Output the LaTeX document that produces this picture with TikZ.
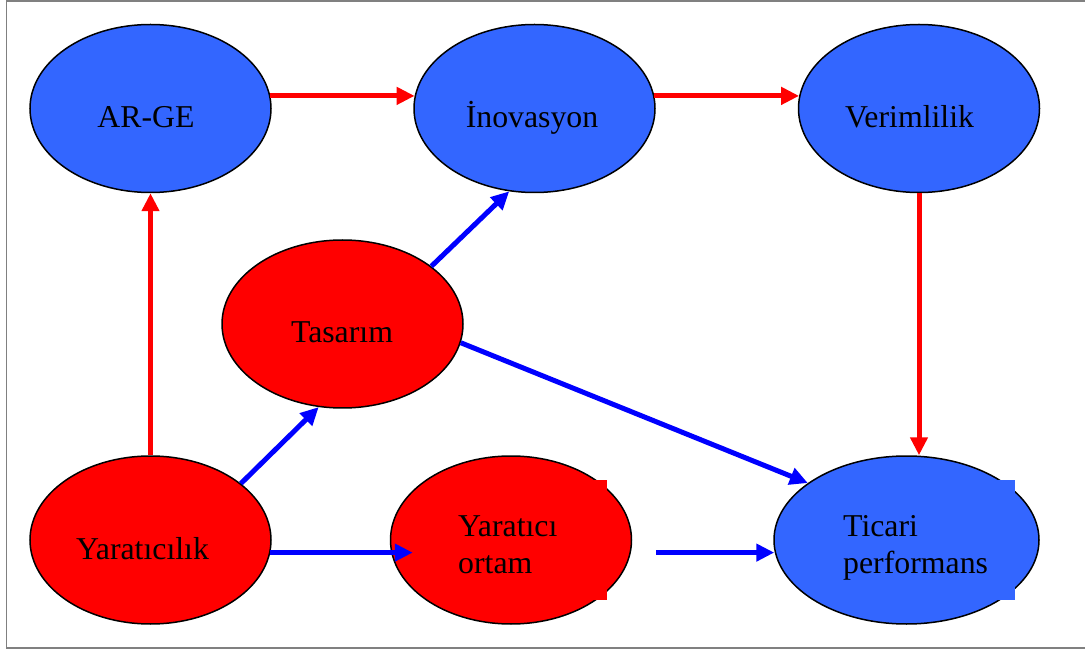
\documentclass[tikz,border=0pt]{standalone}
\usepackage{fontspec}
\setmainfont{Liberation Serif}
\usetikzlibrary{shapes.geometric,arrows.meta}
\definecolor{nodeblue}{RGB}{51,102,255}
\definecolor{nodered}{RGB}{255,0,0}
\definecolor{linkblue}{RGB}{0,0,255}
\definecolor{framegray}{RGB}{128,128,128}

\begin{document}
\begin{tikzpicture}[x=1pt,y=-1pt,
  bubble/.style={ellipse, draw=black, line width=1.5pt, inner sep=0pt,
    minimum width=241pt, minimum height=168pt},
  bluebubble/.style={bubble, fill=nodeblue},
  redbubble/.style={bubble, fill=nodered},
  wordstyle/.style={font=\fontsize{31.8}{37}\selectfont, inner sep=0pt, text=black},
  linkbase/.style={line width=5pt, -{Triangle[length=18pt,width=17pt]}},
  redlink/.style={linkbase, draw=nodered, fill=nodered},
  bluelink/.style={linkbase, draw=linkblue, fill=linkblue}]

\clip (0,0) rectangle (1085,652);

% outer frame
\draw[framegray, line width=1.5pt] (6.5,1) rectangle (1100,648);

% the seven ellipses
\node[bluebubble] (arge) at (150.5,108.5) {};
\node[bluebubble] (ino)  at (534.5,108.5) {};
\node[bluebubble] (ver)  at (919,108.5) {};
\node[redbubble]  (tas)  at (342.5,324) {};
\node[redbubble]  (yar)  at (150.5,540) {};
\node[redbubble]  (ort)  at (511,540) {};
\node[bluebubble, minimum width=265pt] (tic) at (906.5,540) {};

% text boxes behind the two-line labels
\fill[nodered]  (452,480) rectangle (607,600);
\fill[nodeblue] (835,480) rectangle (1015,600);

% labels
\node[wordstyle, anchor=base] (targe) at (146,128) {AR-GE};
\node[wordstyle, anchor=base] (tino)  at (532,128) {İnovasyon};
\node[wordstyle, anchor=base] (tver)  at (909.5,128) {Verimlilik};
\node[wordstyle, anchor=base] (ttas)  at (342,343) {Tasarım};
\node[wordstyle, anchor=base] (tyar)  at (142.5,559) {Yaratıcılık};
\node[wordstyle, anchor=base west, align=left] (tort) at (458,573) {Yaratıcı\\ortam};
\node[wordstyle, anchor=base west, align=left] (ttic) at (843,573) {Ticari\\performans};

% loose ends of the bottom row links
\coordinate (ortin)  at ([xshift=23pt]ort.west |- yar.-6);
\coordinate (ortout) at ([xshift=24pt]ort.east |- yar.-6);
\coordinate (ticin)  at (tic.west |- yar.-6);

% red links
\draw[redlink] (arge.6) -- (ino.174);
\draw[redlink] (ino.6) -- (ver.174);
\draw[redlink] (ver.south) -- (ver.south |- tic.north);
\draw[redlink] (yar.north) -- (arge.south);

% blue links
\draw[bluelink] (tas.33) -- (ino.253);
\draw[bluelink] (yar.32) -- (tas.254);
\draw[bluelink] (tas.-9) -- (tic.150);
\draw[bluelink] (yar.-6) -- (ortin);
\draw[bluelink] (ortout) -- ([xshift=1pt]ticin);

\end{tikzpicture}
\end{document}
